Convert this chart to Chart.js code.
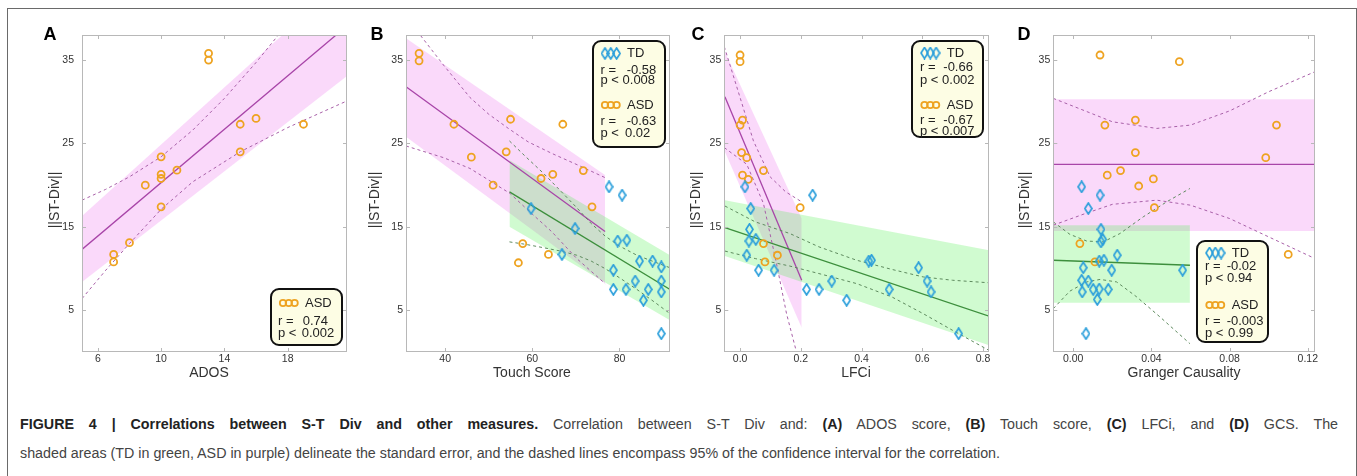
<!DOCTYPE html>
<html>
<head>
<meta charset="utf-8">
<script src="https://cdn.jsdelivr.net/npm/chart.js@4.4.0/dist/chart.umd.min.js"></script>
<style>
  html, body { margin: 0; padding: 0; background: #fff; width: 1357px; height: 476px; overflow: hidden;
    font-family: "Liberation Sans", Arial, sans-serif; }
  #frame { position: absolute; left: 7px; top: 8px; width: 1348px; height: 520px; border: 1px solid #6a6a6a; border-bottom: none; }
  .panel { position: absolute; top: 20px; }
  .cap { position: absolute; left: 20px; white-space: nowrap; color: #444; font-size: 15.5px; line-height: 20px;
    transform-origin: 0 50%; }
  .cap b { color: #222; }
</style>
</head>
<body>
<div id="frame"></div>
<canvas id="pA" class="panel"></canvas>
<canvas id="pB" class="panel"></canvas>
<canvas id="pC" class="panel"></canvas>
<canvas id="pD" class="panel"></canvas>
<div id="cap1" class="cap" style="top:414px"><b>FIGURE 4 | Correlations between S-T Div and other measures.</b> Correlation between S-T Div and: <b>(A)</b> ADOS score, <b>(B)</b> Touch score, <b>(C)</b> LFCi, and <b>(D)</b> GCS. The</div>
<div id="cap2" class="cap" style="top:443px">shaded areas (TD in green, ASD in purple) delineate the standard error, and the dashed lines encompass 95% of the confidence interval for the correlation.</div>

<script>
// ===== data (x, ||ST-Div||) =====
const Y_TICKS = [5, 15, 25, 35];

// A: ADOS (ASD only)
const A_TICKS = [6, 10, 14, 18];
const A_ASD = [[13,35.8],[13,35.0],[15,27.3],[16,28.0],[19,27.3],[15,24.0],[10,23.4],[10,21.3],[10,20.8],[11,21.8],[9,20.0],[10,17.4],[8,13.1],[7,11.7],[7,10.8]];
const A_ASD_FIT = [[5,12.3],[21.75,39.1]];
const A_ASD_SE_LO = [[5,8.4],[21.75,33.1]];
const A_ASD_SE_HI = [[5,16.3],[21.75,45.0]];
const A_ASD_CI_HI = [[5,18.2],[6.5,19.5],[8,21.0],[10,23.4],[12,26.6],[14,30.4],[16,34.7],[17.5,38.2]];
const A_ASD_CI_LO = [[5,6.4],[6.5,9.8],[8,13.0],[10,17.1],[12,20.4],[15,24.0],[18,26.9],[21.75,30.1]];

// B: Touch Score
const B_TICKS = [40, 60, 80];
const B_ASD = [[34,35.8],[34,34.9],[42,27.3],[55,27.9],[67,27.3],[46,23.35],[54,24.0],[51,20.0],[62,20.8],[64.7,21.3],[71.7,21.75],[73.7,17.4],[57.8,13.0],[56.8,10.7],[63.7,11.7]];
const B_TD = [[59.7,17.2],[69.8,14.8],[66.8,11.7],[77.6,19.8],[80.6,18.8],[79.6,13.3],[81.7,13.4],[84.6,10.9],[87.6,10.9],[89.6,10.2],[78.6,9.8],[83.6,8.5],[78.6,7.5],[81.5,7.5],[86.6,7.5],[89.6,8.5],[89.6,7.2],[85.5,6.2],[89.6,2.2]];
const B_ASD_FIT = [[31,31.8],[76.7,14.45]];
const B_TD_FIT = [[54.75,19.2],[91.6,7.5]];
const B_ASD_SE_LO = [[31,25.8],[76.7,8.2]];
const B_ASD_SE_HI = [[31,37.6],[76.7,21.2]];
const B_TD_SE_LO = [[54.75,15.0],[91.6,3.8]];
const B_TD_SE_HI = [[54.75,23.0],[91.6,11.6]];
const B_ASD_CI_HI = [[33.5,38.5],[39.6,34.4],[45.7,30.5],[50,28.5],[54.5,26.8],[59,25.2],[64.5,23.8],[70.5,22.4],[76.7,20.9]];
const B_ASD_CI_LO = [[31,24.7],[39.6,23.3],[45.7,22.0],[50,20.6],[54.9,19.0],[59,17.0],[64.5,14.4],[70.2,11.2],[76.7,8.2]];
const B_TD_CI_HI = [[54.75,25.3],[58.5,23.4],[62.6,21.4],[66.5,19.3],[70.2,17.3],[73.5,15.4],[76.7,13.9],[80,12.7],[84,11.6],[88,10.8],[91.6,10.1]];
const B_TD_CI_LO = [[54.75,13.2],[58.5,12.9],[62.6,12.5],[66.5,12.1],[70.2,11.6],[73.5,10.9],[76.7,10.0],[80,8.9],[84,7.5],[88,6.0],[91.6,4.6]];

// C: LFCi
const C_TICKS = [0, 0.2, 0.4, 0.6, 0.8];
const C_ASD = [[0,35.6],[0,34.8],[0.008,27.8],[0,27.2],[0.005,23.9],[0.022,23.3],[0.008,21.2],[0.027,20.7],[0.077,21.75],[0.198,17.3],[0.077,13.0],[0.082,10.8],[0.123,11.6]];
const C_TD = [[0.016,19.8],[0.035,17.2],[0.239,18.8],[0.031,14.7],[0.029,13.3],[0.052,13.5],[0.022,11.6],[0.061,9.8],[0.112,9.8],[0.219,7.5],[0.26,7.5],[0.302,8.5],[0.351,6.2],[0.424,10.9],[0.433,11.0],[0.491,7.5],[0.588,10.1],[0.616,8.5],[0.629,7.2],[0.72,2.2]];
const C_ASD_FIT = [[-0.05,30.6],[0.203,8.6]];
const C_TD_FIT = [[-0.05,14.9],[0.82,4.3]];
const C_ASD_SE_LO = [[-0.05,24.0],[0.203,2.9]];
const C_ASD_SE_HI = [[-0.05,36.0],[0.203,16.0]];
const C_TD_SE_LO = [[-0.05,11.5],[0.82,0.8]];
const C_TD_SE_HI = [[-0.05,18.2],[0.82,12.2]];
const C_ASD_CI_HI = [[-0.052,36.6],[0.0,30.5],[0.044,25.3],[0.099,21.0],[0.15,19.2],[0.203,18.0]];
const C_ASD_CI_LO = [[-0.052,24.5],[0.022,22.5],[0.077,17.8],[0.12,10.6],[0.153,4.6],[0.2,-2.0]];
const C_TD_CI_HI = [[-0.05,17.5],[0.05,15.6],[0.164,14.2],[0.26,12.6],[0.384,11.0],[0.5,9.9],[0.603,9.0],[0.7,8.6],[0.82,8.3]];
const C_TD_CI_LO = [[-0.05,12.1],[0.05,11.2],[0.164,10.3],[0.26,9.4],[0.384,8.2],[0.5,6.6],[0.603,4.6],[0.7,2.6],[0.82,0.2]];

// D: Granger Causality
const D_TICKS = [0, 0.04, 0.08, 0.12];
const D_ASD = [[0.0137,35.6],[0.0543,34.8],[0.0318,27.8],[0.0162,27.2],[0.104,27.2],[0.0318,23.9],[0.0985,23.3],[0.0242,21.75],[0.0174,21.2],[0.041,20.75],[0.0335,19.9],[0.0415,17.3],[0.0034,13.0],[0.0111,10.8],[0.11,11.7]];
const D_TD = [[0.0043,19.8],[0.0137,18.8],[0.0077,17.2],[0.0142,14.7],[0.0151,13.5],[0.0142,13.2],[0.0133,10.9],[0.0157,11.0],[0.0225,11.6],[0.0051,10.1],[0.0197,9.8],[0.056,9.8],[0.0043,8.6],[0.0077,8.5],[0.0102,7.5],[0.0133,7.55],[0.0179,7.5],[0.0046,7.2],[0.0123,6.3],[0.0065,2.2]];
const D_ASD_FIT = [[-0.0102,22.5],[0.1237,22.5]];
const D_TD_FIT = [[-0.0102,11.0],[0.0597,10.4]];
const D_ASD_SE_LO = [[-0.0102,14.5],[0.1237,14.5]];
const D_ASD_SE_HI = [[-0.0102,30.3],[0.1237,30.3]];
const D_TD_SE_LO = [[-0.0102,5.9],[0.0597,5.9]];
const D_TD_SE_HI = [[-0.0102,15.2],[0.0597,15.2]];
const D_ASD_CI_HI = [[-0.0102,30.4],[0.005,29.0],[0.02,27.6],[0.0427,26.8],[0.06,27.2],[0.08,28.9],[0.1,31.2],[0.1237,33.6]];
const D_ASD_CI_LO = [[-0.0102,15.2],[0.005,16.5],[0.02,17.7],[0.0427,18.2],[0.06,17.6],[0.08,16.0],[0.1,13.8],[0.1237,11.2]];
const D_TD_CI_HI = [[-0.0102,15.6],[-0.0017,14.1],[0.0069,13.3],[0.0154,13.2],[0.0239,14.2],[0.0358,16.2],[0.0478,18.0],[0.0597,19.6]];
const D_TD_CI_LO = [[-0.0102,5.2],[-0.0017,7.3],[0.0069,8.4],[0.0137,8.7],[0.0222,8.4],[0.0325,6.6],[0.0444,4.2],[0.0597,1.0]];

// ===== styles =====
const FONT = '"Liberation Sans", Arial, sans-serif';
const ORANGE = "#eea321";
const BLUE = "#2b9fdb";
const PURPLE = "#a845a8";
const GREEN = "#3d8f3d";
const PINK_DASH = "#a860a8";
const GREEN_DASH = "#5e8a5e";
const PINK_FILL = "rgba(238,130,238,0.30)";
const GREEN_FILL = "rgba(60,240,60,0.24)";

function makeDiamond(color) {
  const c = document.createElement("canvas");
  c.width = 9; c.height = 13;
  const g = c.getContext("2d");
  g.strokeStyle = color; g.lineWidth = 1.7;
  g.beginPath();
  g.moveTo(4.5, 1); g.lineTo(8, 6.5); g.lineTo(4.5, 12); g.lineTo(1, 6.5);
  g.closePath(); g.stroke();
  return c;
}
const DIAMOND = makeDiamond(BLUE);

const pts = arr => arr.map(p => ({ x: p[0], y: p[1] }));

function asdPoints(arr) {
  return { data: pts(arr), pointStyle: "circle", pointRadius: 3.5, borderWidth: 1.8,
    borderColor: ORANGE, backgroundColor: "rgba(0,0,0,0)", showLine: false };
}
function tdPoints(arr) {
  return { data: pts(arr), pointStyle: DIAMOND, pointRadius: 5, showLine: false };
}
function lineSet(arr, color, width, dash) {
  return { data: pts(arr), showLine: true, borderColor: color, borderWidth: width,
    borderDash: dash || [], pointRadius: 0, fill: false, tension: 0 };
}
function band(lo, hi, color) {
  return [
    { data: pts(lo), showLine: true, borderWidth: 0, borderColor: "rgba(0,0,0,0)", pointRadius: 0, fill: false },
    { data: pts(hi), showLine: true, borderWidth: 0, borderColor: "rgba(0,0,0,0)", pointRadius: 0, fill: "-1", backgroundColor: color },
  ];
}

// ===== panels (page-pixel layout) =====
const CANVAS_TOP = 20, CANVAS_H = 372, PLOT_TOP = 35, PLOT_BOTTOM = 352;

const PANELS = [
  { id: "pA", letter: "A", cl: 20, cw: 340, pl: 82, pr: 347, xmin: 5, xmax: 21.75, ticks: A_TICKS, dec: 0,
    tickGap: 8, xTitle: "ADOS", xTitleX: 209, yTitleX: 55, letterX: 50,
    datasets: [
      asdPoints(A_ASD),
      lineSet(A_ASD_CI_HI, PINK_DASH, 1, [3, 3]), lineSet(A_ASD_CI_LO, PINK_DASH, 1, [3, 3]),
      lineSet(A_ASD_FIT, PURPLE, 1.3),
      ...band(A_ASD_SE_LO, A_ASD_SE_HI, PINK_FILL),
    ],
    legend: { x: 271, y: 289, w: 71, h: 56, tx: 278, mx: 283, lx: 305,
      rows: [{ kind: "asd", label: "ASD", my: 303, r: "0.74", rx: 302.7, ry: 321.5, p: "0.002", px: 301.7, py: 333 }] } },
  { id: "pB", letter: "B", cl: 360, cw: 330, pl: 406, pr: 670, xmin: 31, xmax: 91.6, ticks: B_TICKS, dec: 0,
    tickGap: 3, xTitle: "Touch Score", xTitleX: 532, yTitleX: 375, letterX: 377,
    datasets: [
      tdPoints(B_TD), asdPoints(B_ASD),
      lineSet(B_TD_CI_HI, GREEN_DASH, 1, [3, 3]), lineSet(B_TD_CI_LO, GREEN_DASH, 1, [3, 3]),
      lineSet(B_ASD_CI_HI, PINK_DASH, 1, [3, 3]), lineSet(B_ASD_CI_LO, PINK_DASH, 1, [3, 3]),
      lineSet(B_TD_FIT, GREEN, 1.3), lineSet(B_ASD_FIT, PURPLE, 1.3),
      ...band(B_TD_SE_LO, B_TD_SE_HI, GREEN_FILL),
      ...band(B_ASD_SE_LO, B_ASD_SE_HI, PINK_FILL),
    ],
    legend: { x: 593, y: 41, w: 72, h: 106, tx: 600.5, mx: 605, lx: 627,
      rows: [{ kind: "td", label: "TD", my: 53.5, r: "-0.58", rx: 626.7, ry: 70, p: "0.008", px: 621.7, py: 80.5 },
             { kind: "asd", label: "ASD", my: 105, r: "-0.63", rx: 626.7, ry: 121.5, p: "0.02", px: 625, py: 133 }] } },
  { id: "pC", letter: "C", cl: 690, cw: 320, pl: 724.3, pr: 989, xmin: -0.052, xmax: 0.82, ticks: C_TICKS, dec: 1,
    tickGap: 3, xTitle: "LFCi", xTitleX: 856, yTitleX: 696, letterX: 698,
    datasets: [
      tdPoints(C_TD), asdPoints(C_ASD),
      lineSet(C_TD_CI_HI, GREEN_DASH, 1, [3, 3]), lineSet(C_TD_CI_LO, GREEN_DASH, 1, [3, 3]),
      lineSet(C_ASD_CI_HI, PINK_DASH, 1, [3, 3]), lineSet(C_ASD_CI_LO, PINK_DASH, 1, [3, 3]),
      lineSet(C_TD_FIT, GREEN, 1.3), lineSet(C_ASD_FIT, PURPLE, 1.3),
      ...band(C_TD_SE_LO, C_TD_SE_HI, GREEN_FILL),
      ...band(C_ASD_SE_LO, C_ASD_SE_HI, PINK_FILL),
    ],
    legend: { x: 912, y: 41, w: 71, h: 96, tx: 920, mx: 924.5, lx: 946.7,
      rows: [{ kind: "td", label: "TD", my: 53, r: "-0.66", rx: 943.3, ry: 67.5, p: "0.002", px: 941.5, py: 80 },
             { kind: "asd", label: "ASD", my: 105, r: "-0.67", rx: 943.3, ry: 120, p: "0.007", px: 941.5, py: 131.5 }] } },
  { id: "pD", letter: "D", cl: 1010, cw: 330, pl: 1053.3, pr: 1315, xmin: -0.0102, xmax: 0.1237, ticks: D_TICKS, dec: 2,
    tickGap: 3, xTitle: "Granger Causality", xTitleX: 1184, yTitleX: 1025, letterX: 1024,
    datasets: [
      tdPoints(D_TD), asdPoints(D_ASD),
      lineSet(D_TD_CI_HI, GREEN_DASH, 1, [3, 3]), lineSet(D_TD_CI_LO, GREEN_DASH, 1, [3, 3]),
      lineSet(D_ASD_CI_HI, PINK_DASH, 1, [3, 3]), lineSet(D_ASD_CI_LO, PINK_DASH, 1, [3, 3]),
      lineSet(D_TD_FIT, GREEN, 1.3), lineSet(D_ASD_FIT, PURPLE, 1.3),
      ...band(D_TD_SE_LO, D_TD_SE_HI, GREEN_FILL),
      ...band(D_ASD_SE_LO, D_ASD_SE_HI, PINK_FILL),
    ],
    legend: { x: 1197, y: 241, w: 71, h: 101, tx: 1205, mx: 1209.5, lx: 1231.7,
      rows: [{ kind: "td", label: "TD", my: 253, r: "-0.02", rx: 1226.7, ry: 266.5, p: "0.94", px: 1227, py: 278 },
             { kind: "asd", label: "ASD", my: 305, r: "-0.003", rx: 1226.7, ry: 321.5, p: "0.99", px: 1228, py: 333 }] } },
];

function roundRect(ctx, x, y, w, h, r) {
  ctx.beginPath();
  ctx.moveTo(x + r, y);
  ctx.arcTo(x + w, y, x + w, y + h, r);
  ctx.arcTo(x + w, y + h, x, y + h, r);
  ctx.arcTo(x, y + h, x, y, r);
  ctx.arcTo(x, y, x + w, y, r);
  ctx.closePath();
}

function drawDeco(chart, P) {
  const ctx = chart.ctx;
  const ox = P.cl, oy = CANVAS_TOP;   // page -> canvas offset
  const a = chart.chartArea;
  const xs = chart.scales.x, ys = chart.scales.y;
  ctx.save();

  // plot frame + inward ticks
  ctx.strokeStyle = "#b8b8b8"; ctx.lineWidth = 1;
  ctx.strokeRect(Math.round(a.left) + 0.5, Math.round(a.top) + 0.5, Math.round(a.right - a.left) - 1, Math.round(a.bottom - a.top) - 1);
  ctx.beginPath();
  xs.ticks.forEach(t => {
    const px = Math.round(xs.getPixelForValue(t.value)) + 0.5;
    ctx.moveTo(px, a.bottom); ctx.lineTo(px, a.bottom - 4);
    ctx.moveTo(px, a.top); ctx.lineTo(px, a.top + 4);
  });
  ys.ticks.forEach(t => {
    const py = Math.round(ys.getPixelForValue(t.value)) + 0.5;
    ctx.moveTo(a.left, py); ctx.lineTo(a.left + 4, py);
    ctx.moveTo(a.right, py); ctx.lineTo(a.right - 4, py);
  });
  ctx.stroke();

  // panel letter
  ctx.fillStyle = "#000";
  ctx.font = "bold 18px " + FONT;
  ctx.textAlign = "center"; ctx.textBaseline = "middle";
  ctx.fillText(P.letter, P.letterX - ox, 35 - oy);

  // axis titles
  ctx.fillStyle = "#333";
  ctx.font = "14px " + FONT;
  ctx.fillText(P.xTitle, P.xTitleX - ox, 373 - oy);
  ctx.save();
  ctx.translate(P.yTitleX - ox, 200 - oy);
  ctx.rotate(-Math.PI / 2);
  ctx.fillText("||ST-Div||", 0, 0);
  ctx.restore();

  // legend box
  const L = P.legend;
  roundRect(ctx, L.x - ox, L.y - oy, L.w, L.h, 8);
  ctx.fillStyle = "#fdfde4"; ctx.fill();
  ctx.strokeStyle = "#111"; ctx.lineWidth = 2; ctx.stroke();
  ctx.font = "13px " + FONT;
  ctx.textAlign = "left";
  const rMin = ctx.measureText("r = ").width, pMin = ctx.measureText("p < ").width;
  L.rows.forEach(r => {
    for (let i = 0; i < 3; i++) {
      const mx = L.mx + i * 5.8 - ox, my = r.my - oy;
      if (r.kind === "asd") {
        ctx.beginPath(); ctx.arc(mx, my, 3.2, 0, Math.PI * 2);
        ctx.strokeStyle = ORANGE; ctx.lineWidth = 1.8; ctx.stroke();
      } else {
        ctx.drawImage(DIAMOND, mx - 4.5, my - 6.5);
      }
    }
    ctx.fillStyle = "#222";
    ctx.fillText(r.label, L.lx - ox, r.my - oy);
    ctx.fillText("r =", L.tx - ox, r.ry - oy);
    ctx.fillText(r.r, Math.max(r.rx, L.tx + rMin) - ox, r.ry - oy);
    ctx.fillText("p <", L.tx - ox, r.py - oy);
    ctx.fillText(r.p, Math.max(r.px, L.tx + pMin) - ox, r.py - oy);
  });
  ctx.restore();
}

function buildChart(P) {
  const el = document.getElementById(P.id);
  el.width = P.cw; el.height = CANVAS_H;
  el.style.left = P.cl + "px";
  el.style.width = P.cw + "px"; el.style.height = CANVAS_H + "px";
  const tickFont = { size: 10.5, family: FONT };
  new Chart(el, {
    type: "scatter",
    data: { datasets: P.datasets },
    options: {
      responsive: false,
      animation: false,
      layout: { padding: { left: 0, top: PLOT_TOP - CANVAS_TOP, right: P.cl + P.cw - P.pr, bottom: 0 } },
      plugins: { legend: { display: false }, tooltip: { enabled: false } },
      scales: {
        x: {
          type: "linear", min: P.xmin, max: P.xmax,
          grid: { display: false, drawTicks: false }, border: { display: false },
          ticks: { font: tickFont, color: "#333", padding: 1, maxRotation: 0,
            callback: v => Number(v).toFixed(P.dec) },
          afterBuildTicks: s => { s.ticks = P.ticks.map(v => ({ value: v })); },
          afterFit: s => { s.height = CANVAS_TOP + CANVAS_H - PLOT_BOTTOM; },
        },
        y: {
          type: "linear", min: 0, max: 38,
          grid: { display: false, drawTicks: false }, border: { display: false },
          ticks: { font: tickFont, color: "#333", padding: P.tickGap },
          afterBuildTicks: s => { s.ticks = Y_TICKS.map(v => ({ value: v })); },
          afterFit: s => { s.width = P.pl - P.cl; },
        },
      },
    },
    plugins: [{ id: "deco", afterDraw: chart => drawDeco(chart, P) }],
  });
}

PANELS.forEach(buildChart);

// caption: narrow face (horizontal squeeze) so line 2 ends near x=1000, line 1 justified to full width
(function fitCaption() {
  const c1 = document.getElementById("cap1"), c2 = document.getElementById("cap2");
  const s = 980 / c2.getBoundingClientRect().width;
  const w1 = c1.getBoundingClientRect().width;
  const spaces = (c1.textContent.match(/ /g) || []).length;
  c1.style.wordSpacing = ((1318 / s - w1) / spaces) + "px";
  c1.style.transform = "scaleX(" + s + ")";
  c2.style.transform = "scaleX(" + s + ")";
})();
</script>
</body>
</html>
